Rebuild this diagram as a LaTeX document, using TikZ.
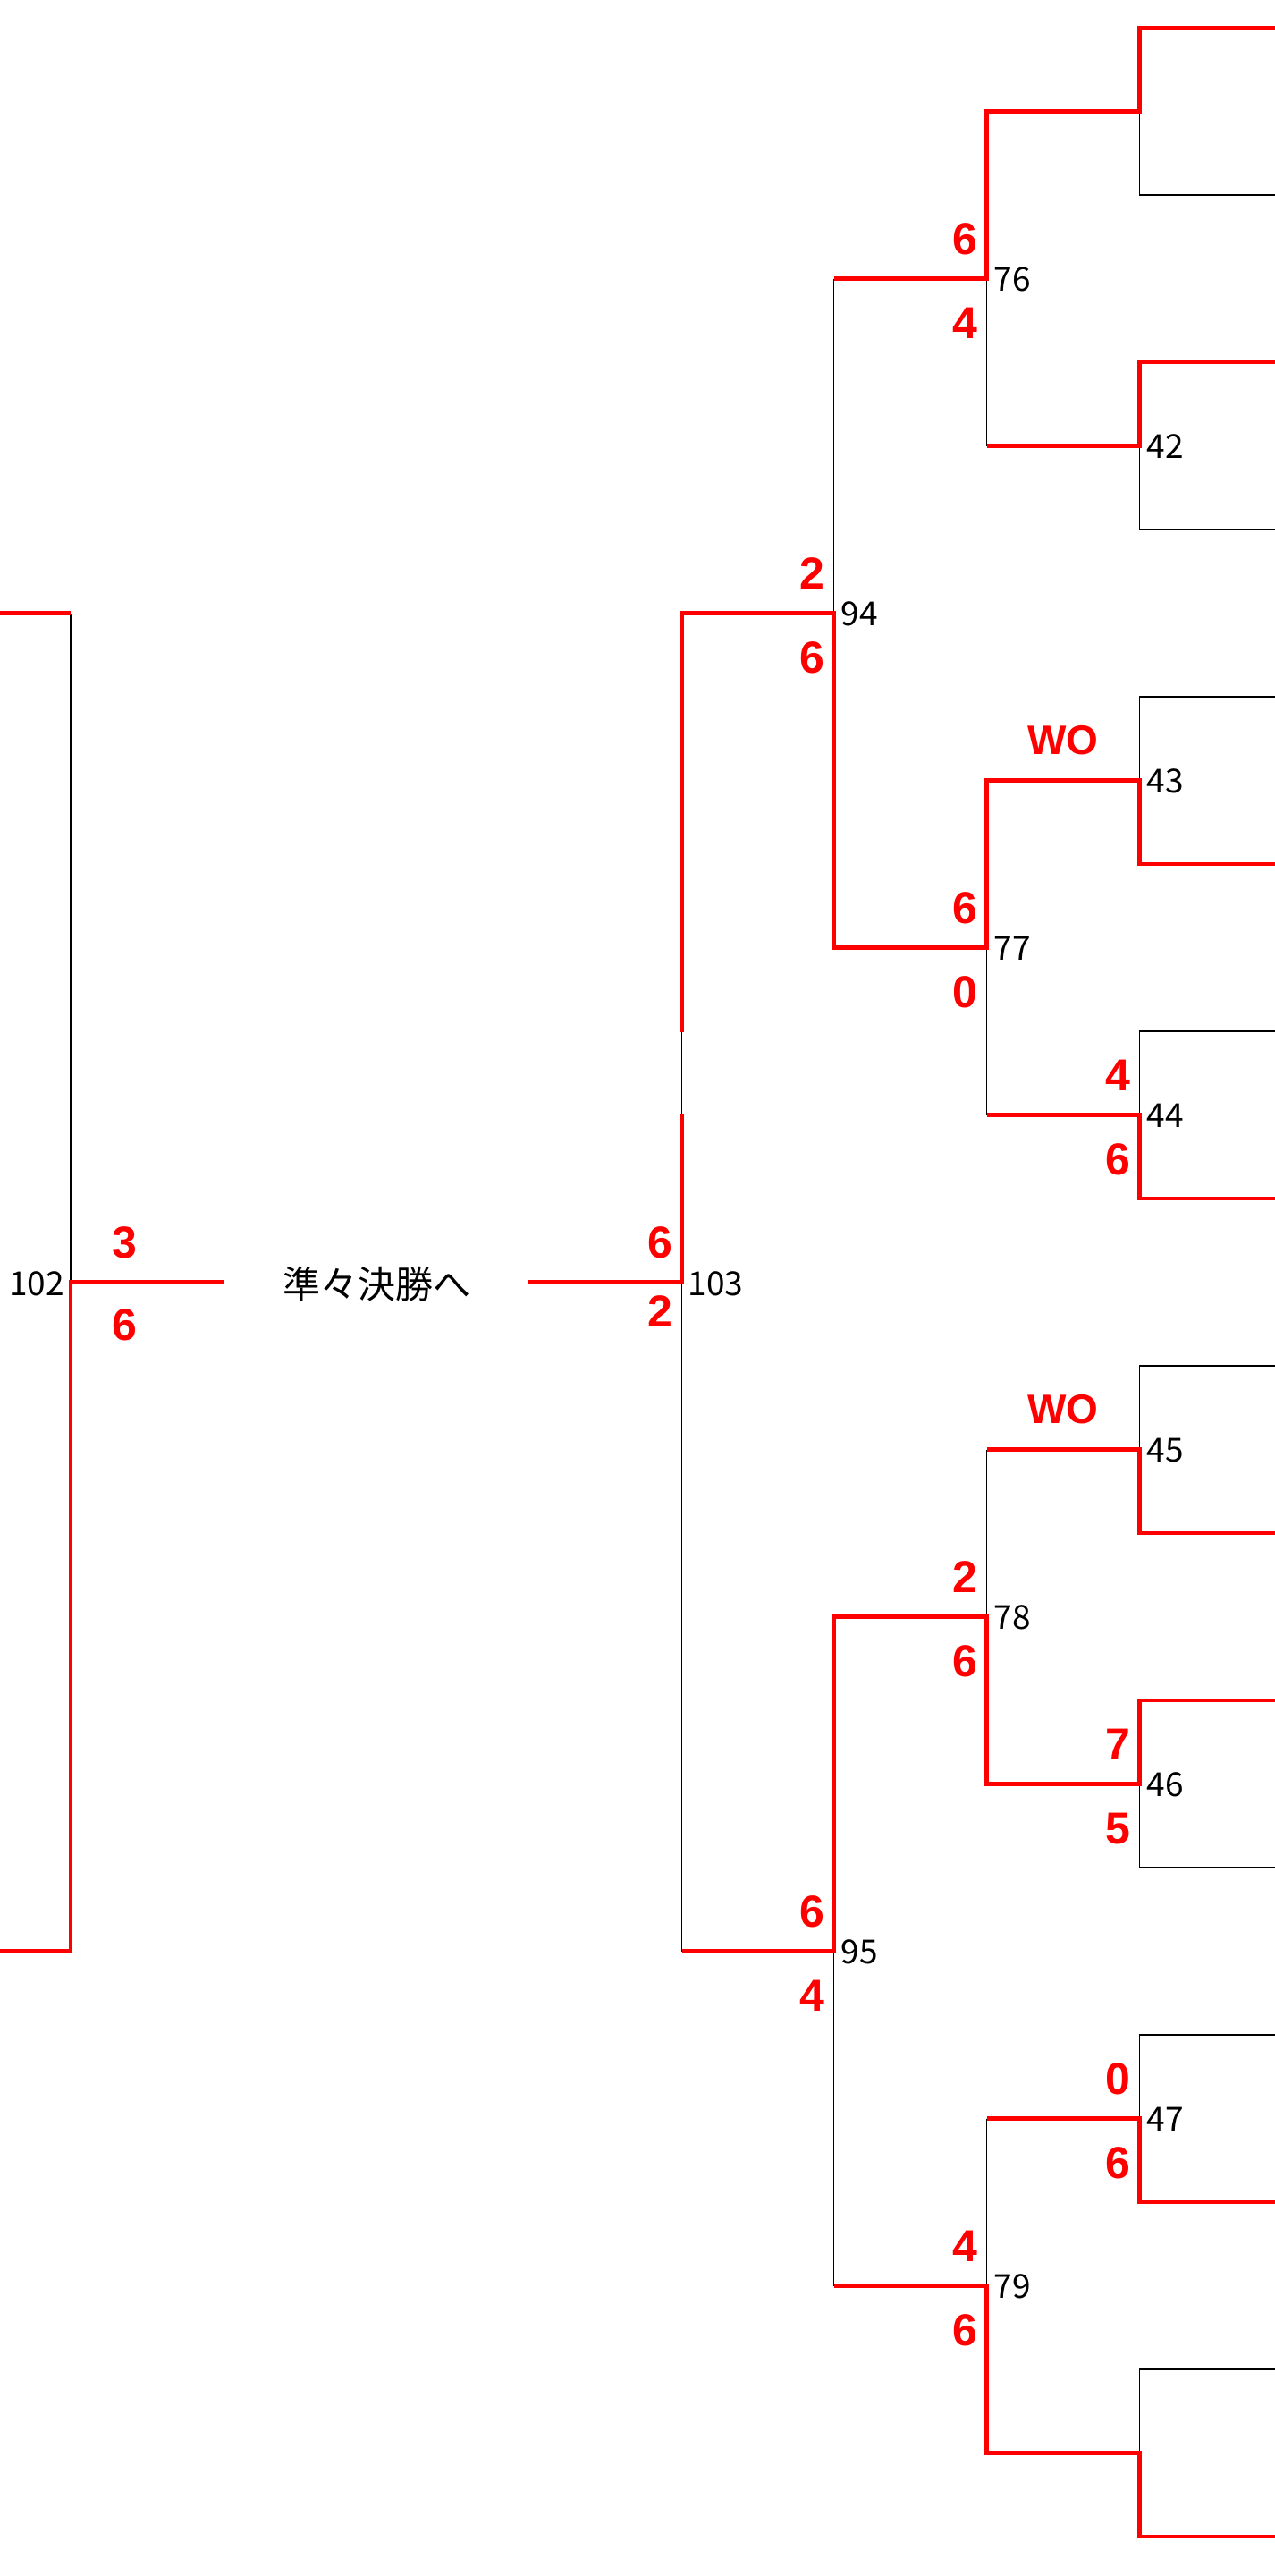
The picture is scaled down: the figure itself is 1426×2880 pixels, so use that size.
\documentclass[tikz,border=0pt]{standalone}
\usepackage{fontspec}
\setmainfont{Noto Sans CJK JP}
\newfontfamily\scorefont{Liberation Sans}
\tikzset{%
  loser/.style={draw=black,line width=1.6pt},%
  winner/.style={draw=red,line width=4.5pt},%
  score/.style={text=red,inner sep=0pt,font=\scorefont\bfseries\fontsize{50}{50}\selectfont},%
  walkover/.style={score,font=\scorefont\bfseries\fontsize{46}{46}\selectfont},%
  matchno/.style={inner sep=0pt,font=\fontsize{37}{37}\selectfont},%
}
\begin{document}
\begin{tikzpicture}[x=1pt,y=-1pt]%
\useasboundingbox (0,0) rectangle (1426,2880);%
\def\xA{1274.5};%
\def\xB{1103.5};%
\def\xC{932.5};%
\def\xD{762.5};%
\def\xL{79};%
\def\xR{1440};%
\def\up{44.5};%
\def\dn{50};%
\def\dx{24.5};%
% first round
\draw[loser] (\xR,31) -- (\xA,31) -- (\xA,218) -- (\xR,218);%
\draw[loser] (\xR,405) -- (\xA,405) -- (\xA,592) -- (\xR,592);%
\draw[loser] (\xR,779) -- (\xA,779) -- (\xA,966) -- (\xR,966);%
\draw[loser] (\xR,1153) -- (\xA,1153) -- (\xA,1340) -- (\xR,1340);%
\draw[loser] (\xR,1527) -- (\xA,1527) -- (\xA,1714) -- (\xR,1714);%
\draw[loser] (\xR,1901) -- (\xA,1901) -- (\xA,2088) -- (\xR,2088);%
\draw[loser] (\xR,2275) -- (\xA,2275) -- (\xA,2462) -- (\xR,2462);%
\draw[loser] (\xR,2649) -- (\xA,2649) -- (\xA,2836) -- (\xR,2836);%
% later rounds
\draw[loser] (\xB,124.5) -- (\xB,498.5);%
\draw[loser] (\xB,872.5) -- (\xB,1246.5);%
\draw[loser] (\xB,1620.5) -- (\xB,1994.5);%
\draw[loser] (\xB,2368.5) -- (\xB,2742.5);%
\draw[loser] (\xC,311.5) -- (\xC,1059.5);%
\draw[loser] (\xC,1807.5) -- (\xC,2555.5);%
\draw[loser] (\xD,685.5) -- (\xD,2181.5);%
\draw[loser] (\xL,685.5) -- (\xL,2181.5);%
%
% winners
\draw[winner] (\xR,31) -- (\xA,31) -- (\xA,124.5) -- (\xB,124.5) -- (\xB,311.5) -- (\xC,311.5);%
\draw[winner] (\xR,405) -- (\xA,405) -- (\xA,498.5) -- (\xB,498.5);%
\draw[winner] (\xR,966) -- (\xA,966) -- (\xA,872.5) -- (\xB,872.5) -- (\xB,1059.5) -- (\xC,1059.5) -- (\xC,685.5) -- (\xD,685.5) -- (\xD,1154);%
\draw[winner] (\xD,1246) -- (\xD,1433.5) -- (591,1433.5);%
\draw[winner] (\xR,1340) -- (\xA,1340) -- (\xA,1246.5) -- (\xB,1246.5);%
\draw[winner] (\xR,1714) -- (\xA,1714) -- (\xA,1620.5) -- (\xB,1620.5);%
\draw[winner] (\xR,1901) -- (\xA,1901) -- (\xA,1994.5) -- (\xB,1994.5) -- (\xB,1807.5) -- (\xC,1807.5) -- (\xC,2181.5) -- (\xD,2181.5);%
\draw[winner] (\xR,2462) -- (\xA,2462) -- (\xA,2368.5) -- (\xB,2368.5);%
\draw[winner] (\xR,2836) -- (\xA,2836) -- (\xA,2742.5) -- (\xB,2742.5) -- (\xB,2555.5) -- (\xC,2555.5);%
\draw[winner] (-10,685.5) -- (\xL,685.5);%
\draw[winner] (-10,2181.5) -- (\xL,2181.5) -- (\xL,1433.5) -- (251,1433.5);%
%
% match numbers
\node[matchno,anchor=west] (n42) at (\xA+8,499.5) {42};%
\node[matchno,anchor=west] (n43) at (\xA+8,873.5) {43};%
\node[matchno,anchor=west] (n44) at (\xA+8,1247.5) {44};%
\node[matchno,anchor=west] (n45) at (\xA+8,1621.5) {45};%
\node[matchno,anchor=west] (n46) at (\xA+8,1995.5) {46};%
\node[matchno,anchor=west] (n47) at (\xA+8,2369.5) {47};%
\node[matchno,anchor=west] (n76) at (\xB+8,312.5) {76};%
\node[matchno,anchor=west] (n77) at (\xB+8,1060.5) {77};%
\node[matchno,anchor=west] (n78) at (\xB+8,1808.5) {78};%
\node[matchno,anchor=west] (n79) at (\xB+8,2556.5) {79};%
\node[matchno,anchor=west] (n94) at (\xC+8,686.5) {94};%
\node[matchno,anchor=west] (n95) at (\xC+8,2182.5) {95};%
\node[matchno,anchor=west] (n103) at (\xD+7,1435) {103};%
\node[matchno,anchor=east] (n102) at (\xL-7,1435) {102};%
\node[inner sep=0pt,font=\fontsize{42}{42}\selectfont] (qf) at (421,1435) {準々決勝へ};%
%
% scores
\def\ypos{1246.5};%
\node[score] (s44a) at (\xA-\dx,\ypos-\up) {4};%
\node[score] (s44b) at (\xA-\dx,\ypos+\dn) {6};%
\def\ypos{1994.5};%
\node[score] (s46a) at (\xA-\dx,\ypos-\up) {7};%
\node[score] (s46b) at (\xA-\dx,\ypos+\dn) {5};%
\def\ypos{2368.5};%
\node[score] (s47a) at (\xA-\dx,\ypos-\up) {0};%
\node[score] (s47b) at (\xA-\dx,\ypos+\dn) {6};%
\node[walkover] (wo43) at (1189,828) {WO};%
\node[walkover] (wo45) at (1189,1576) {WO};%
\def\ypos{311.5};%
\node[score] (s76a) at (\xB-\dx,\ypos-\up) {6};%
\node[score] (s76b) at (\xB-\dx,\ypos+\dn) {4};%
\def\ypos{1059.5};%
\node[score] (s77a) at (\xB-\dx,\ypos-\up) {6};%
\node[score] (s77b) at (\xB-\dx,\ypos+\dn) {0};%
\def\ypos{1807.5};%
\node[score] (s78a) at (\xB-\dx,\ypos-\up) {2};%
\node[score] (s78b) at (\xB-\dx,\ypos+\dn) {6};%
\def\ypos{2555.5};%
\node[score] (s79a) at (\xB-\dx,\ypos-\up) {4};%
\node[score] (s79b) at (\xB-\dx,\ypos+\dn) {6};%
\def\ypos{685.5};%
\node[score] (s94a) at (\xC-\dx,\ypos-\up) {2};%
\node[score] (s94b) at (\xC-\dx,\ypos+\dn) {6};%
\def\ypos{2181.5};%
\node[score] (s95a) at (\xC-\dx,\ypos-\up) {6};%
\node[score] (s95b) at (\xC-\dx,\ypos+\dn) {4};%
\def\ypos{1433.5};%
\node[score] (s103a) at (\xD-\dx,\ypos-\up) {6};%
\node[score] (s103b) at (\xD-\dx,\ypos+33) {2};%
\node[score] (s102a) at (\xL+60.5,\ypos-\up) {3};%
\node[score] (s102b) at (\xL+60.5,\ypos+48) {6};%
\end{tikzpicture}
\end{document}
